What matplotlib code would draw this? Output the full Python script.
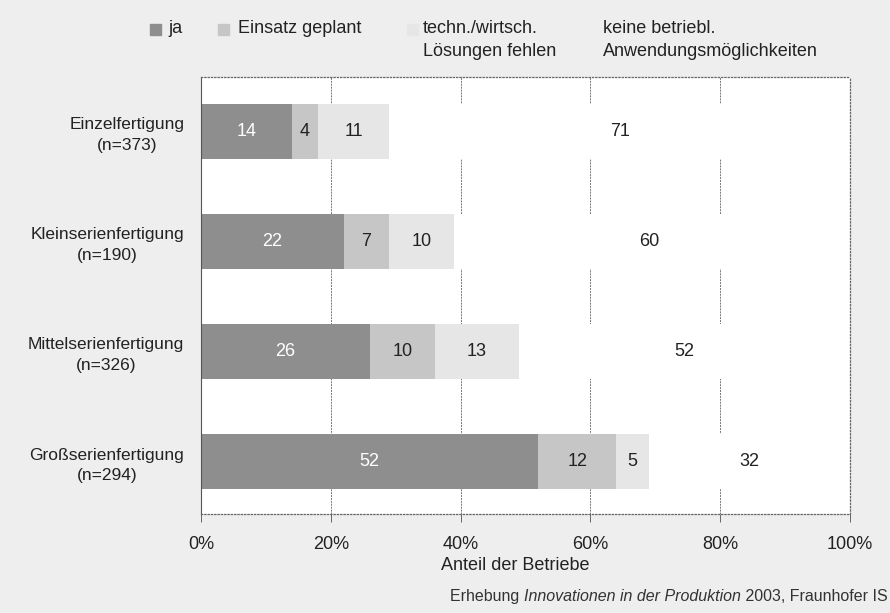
import matplotlib

matplotlib.use("Agg")
import matplotlib.pyplot as plt
import numpy as np
from matplotlib.patches import Rectangle

plt.rcParams["font.family"] = ["Liberation Sans", "DejaVu Sans"]

# data
categories = [
    "Einzelfertigung\n(n=373)",
    "Kleinserienfertigung\n(n=190)",
    "Mittelserienfertigung\n(n=326)",
    "Großserienfertigung\n(n=294)",
]
series_names = [
    "ja",
    "Einsatz geplant",
    "techn./wirtsch.\nLösungen fehlen",
    "keine betriebl.\nAnwendungsmöglichkeiten",
]
ja = [14, 22, 26, 52]
geplant = [4, 7, 10, 12]
fehlen = [11, 10, 13, 5]
keine = [71, 60, 52, 32]
x_ticks = [0, 20, 40, 60, 80, 100]
x_ticklabels = ["0%", "20%", "40%", "60%", "80%", "100%"]
x_label = "Anteil der Betriebe"
source_parts = [("Erhebung ", "normal"),
                ("Innovationen in der Produktion", "italic"),
                (" 2003, Fraunhofer IS", "normal")]

colors = ["#8e8e8e", "#c6c6c6", "#e6e6e6", "#ffffff"]
text_colors = ["white", "#222222", "#222222", "#222222"]

W, H = 890, 613
fig = plt.figure(figsize=(W / 100, H / 100), dpi=100, facecolor="#eeeeee")
ax = fig.add_axes([201 / W, 1 - 514 / H, 649 / W, 437 / H])
ax.set_facecolor("white")

y = np.arange(len(categories))
left = np.zeros(len(categories))
for vals, col, tc in zip([ja, geplant, fehlen, keine], colors, text_colors):
    bars = ax.barh(y, vals, left=left, height=0.5, color=col, zorder=2)
    ax.bar_label(bars, labels=[str(v) for v in vals], label_type="center",
                 color=tc, fontsize=13)
    left += np.array(vals)

ax.set_xlim(0, 100)
ax.set_ylim(3 + 53 / 110, -54 / 110)
ax.set_xticks(x_ticks)
ax.set_xticklabels(x_ticklabels, fontsize=13, color="#222222")
ax.set_yticks(y)
ax.set_yticklabels(categories, fontsize=12.5, color="#222222")
for lbl in ax.get_yticklabels():
    lbl.set_multialignment("center")
    lbl.set_linespacing(1.45)
ax.tick_params(axis="y", length=0, pad=12)
ax.tick_params(axis="x", length=6, width=0.7, color="#666666", pad=10)

ax.xaxis.grid(True, color="#777777", lw=0.7, linestyle=(0, (2, 1)))
ax.set_axisbelow(True)
for side in ["top", "right", "bottom"]:
    ax.spines[side].set_linestyle(":")
    ax.spines[side].set_color("#666666")
    ax.spines[side].set_linewidth(0.9)
ax.spines["left"].set_color("#555555")
ax.spines["left"].set_linewidth(0.8)

fig.text(515 / W, 1 - 566 / H, x_label, ha="center", va="center",
         fontsize=13, color="#222222")

# legend drawn by hand, squares beside the first text line
sq_x = [150, 218, 407, None]
txt_x = [168, 238, 423, 603]
for name, col, sx, tx in zip(series_names, colors, sq_x, txt_x):
    if sx is not None:
        fig.patches.append(Rectangle((sx / W, 1 - 35 / H), 11 / W, 11 / H,
                                     transform=fig.transFigure, color=col))
    fig.text(tx / W, 1 - 20 / H, name, ha="left", va="top", fontsize=13,
             linespacing=1.45, color="#222222")

# source line with italic survey title, pieces placed one after another
renderer = fig.canvas.get_renderer()
x_px = 450
for part, style in source_parts:
    t = fig.text(x_px / W, 1 - 601 / H, part, fontsize=11.5, style=style,
                 va="baseline", ha="left", color="#333333")
    x_px += t.get_window_extent(renderer).width

fig.savefig("out.png", dpi=100, facecolor=fig.get_facecolor())
